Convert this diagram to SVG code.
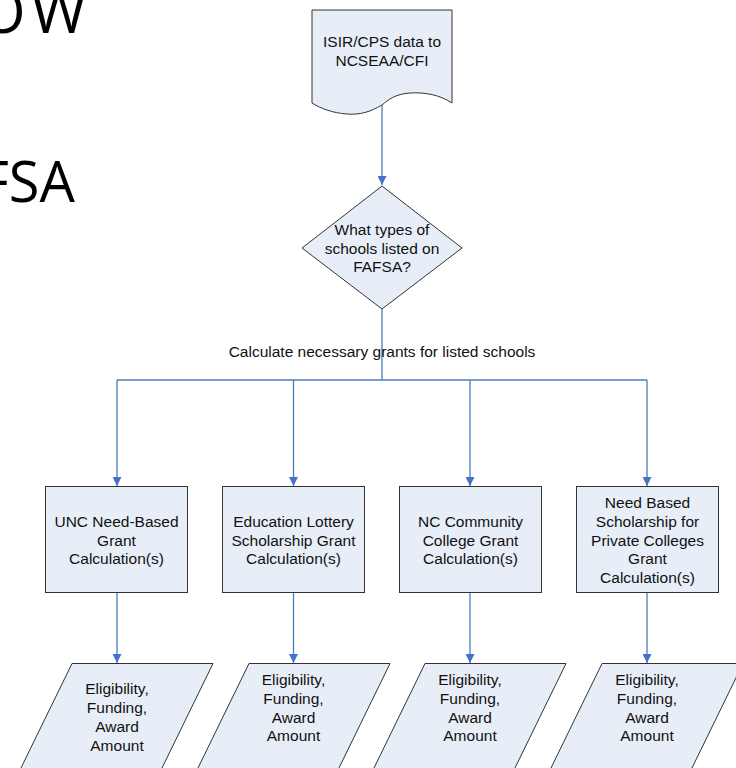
<svg xmlns="http://www.w3.org/2000/svg" width="736" height="768" viewBox="0 0 736 768">
<defs>
<style>
.shape{fill:#E8EEF8;stroke:#333;stroke-width:1}
.t{font-family:"Liberation Sans",Arial,sans-serif;font-size:15.5px;fill:#111;text-anchor:middle}
.bg{font-family:"Open Sans","Noto Sans",sans-serif;font-size:56px;fill:#000}
.c{fill:none;stroke:#4A7EBB;stroke-width:1.3}
</style>
<marker id="ah" viewBox="0 0 10 10" refX="10" refY="5" markerWidth="9" markerHeight="9" markerUnits="userSpaceOnUse" orient="auto">
<path d="M0,0 L10,5 L0,10 Z" fill="#4472C4"/>
</marker>
</defs>
<rect width="736" height="768" fill="#fff"/>
<g id="background-title">
<text class="bg" x="-21 31" y="33" style="font-size:60px">OW</text>
<text class="bg" x="75" y="202" text-anchor="end">FSA</text>
</g>
<g id="connectors">
<line class="c" x1="382" y1="105" x2="382" y2="185" marker-end="url(#ah)"/>
<polyline class="c" points="382,308 382,380"/>
<line class="c" x1="117" y1="380" x2="647" y2="380"/>
<line class="c" x1="117" y1="380" x2="117" y2="486" marker-end="url(#ah)"/>
<line class="c" x1="293.5" y1="380" x2="293.5" y2="486" marker-end="url(#ah)"/>
<line class="c" x1="470" y1="380" x2="470" y2="486" marker-end="url(#ah)"/>
<line class="c" x1="647" y1="380" x2="647" y2="486" marker-end="url(#ah)"/>
<line class="c" x1="117" y1="592" x2="117" y2="663" marker-end="url(#ah)"/>
<line class="c" x1="293.5" y1="592" x2="293.5" y2="663" marker-end="url(#ah)"/>
<line class="c" x1="470" y1="592" x2="470" y2="663" marker-end="url(#ah)"/>
<line class="c" x1="647" y1="592" x2="647" y2="663" marker-end="url(#ah)"/>
<text class="t" x="382" y="357">Calculate necessary grants for listed schools</text>
</g>
<g id="isir-doc">
<path class="shape" d="M312,10 L452,10 L452,103 C440,95 425,92 410,93 C395,94 388,100 382,105 C370,112 360,115 347,114 C332,113 320,108 312,103 Z"/>
<text class="t" x="382" y="47">ISIR/CPS data to</text>
<text class="t" x="382" y="65.5">NCSEAA/CFI</text>
</g>
<g id="decision">
<path class="shape" d="M382,186 L462,248 L382,309 L302,248 Z"/>
<text class="t" x="382" y="235">What types of</text>
<text class="t" x="382" y="253.5">schools listed on</text>
<text class="t" x="382" y="272">FAFSA?</text>
</g>
<g id="unc-box">
<rect class="shape" x="45.5" y="486.5" width="142" height="106"/>
<text class="t" x="116.5" y="527">UNC Need-Based</text>
<text class="t" x="116.5" y="545.5">Grant</text>
<text class="t" x="116.5" y="564">Calculation(s)</text>
</g>
<g id="lottery-box">
<rect class="shape" x="222.5" y="486.5" width="142" height="106"/>
<text class="t" x="293.5" y="527">Education Lottery</text>
<text class="t" x="293.5" y="545.5">Scholarship Grant</text>
<text class="t" x="293.5" y="564">Calculation(s)</text>
</g>
<g id="cc-box">
<rect class="shape" x="399.5" y="486.5" width="142" height="106"/>
<text class="t" x="470.5" y="527">NC Community</text>
<text class="t" x="470.5" y="545.5">College Grant</text>
<text class="t" x="470.5" y="564">Calculation(s)</text>
</g>
<g id="private-box">
<rect class="shape" x="576.5" y="486.5" width="142" height="106"/>
<text class="t" x="647.5" y="508">Need Based</text>
<text class="t" x="647.5" y="527">Scholarship for</text>
<text class="t" x="647.5" y="545.5">Private Colleges</text>
<text class="t" x="647.5" y="564">Grant</text>
<text class="t" x="647.5" y="582.5">Calculation(s)</text>
</g>
<g id="out-1">
<path class="shape" d="M72,663.5 L213,663.5 L161,770 L20,770 Z"/>
<text class="t" x="117" y="694">Eligibility,</text>
<text class="t" x="117" y="713">Funding,</text>
<text class="t" x="117" y="732">Award</text>
<text class="t" x="117" y="751">Amount</text>
</g>
<g id="out-2">
<path class="shape" d="M249,663.5 L390,663.5 L338,770 L197,770 Z"/>
<text class="t" x="293.5" y="685">Eligibility,</text>
<text class="t" x="293.5" y="704">Funding,</text>
<text class="t" x="293.5" y="722.5">Award</text>
<text class="t" x="293.5" y="741">Amount</text>
</g>
<g id="out-3">
<path class="shape" d="M425,663.5 L566,663.5 L514,770 L373,770 Z"/>
<text class="t" x="470" y="685">Eligibility,</text>
<text class="t" x="470" y="704">Funding,</text>
<text class="t" x="470" y="722.5">Award</text>
<text class="t" x="470" y="741">Amount</text>
</g>
<g id="out-4">
<path class="shape" d="M602,663.5 L743,663.5 L691,770 L550,770 Z"/>
<text class="t" x="647" y="685">Eligibility,</text>
<text class="t" x="647" y="704">Funding,</text>
<text class="t" x="647" y="722.5">Award</text>
<text class="t" x="647" y="741">Amount</text>
</g>
</svg>
